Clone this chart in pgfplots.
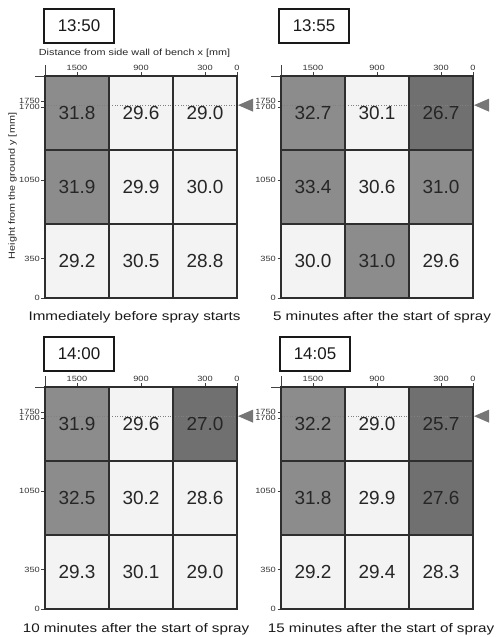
\documentclass[border=0pt]{standalone}
\usepackage{fontspec}
\setmainfont{Liberation Sans}
\newfontfamily\widefont[FakeStretch=1.22]{Liberation Sans}
\usepackage{pgfplots}
\usepackage{pgfplotstable}
\pgfplotsset{compat=1.18}
\definecolor{lightc}{HTML}{F3F3F3}
\definecolor{midc}{HTML}{8C8C8C}
\definecolor{darkc}{HTML}{707070}
\definecolor{gridc}{HTML}{2E2E2E}
\definecolor{txtc}{HTML}{262626}
\definecolor{tric}{HTML}{767676}

\pgfdeclareplotmark{lefttri}{%
  \pgfpathmoveto{\pgfpoint{1bp}{0bp}}%
  \pgfpathlineto{\pgfpoint{16bp}{6.5bp}}%
  \pgfpathlineto{\pgfpoint{16bp}{-6.5bp}}%
  \pgfpathclose\pgfusepathqfill}

% c: 0 = dark, 1 = light, 2 = medium
\pgfplotstableread{
x y c t
300 330 1 28.8
900 330 1 30.5
1500 330 1 29.2
300 990 1 30.0
900 990 1 29.9
1500 990 2 31.9
300 1650 1 29.0
900 1650 1 29.6
1500 1650 2 31.8
}\tabA
\pgfplotstableread{
x y c t
300 330 1 29.6
900 330 2 31.0
1500 330 1 30.0
300 990 2 31.0
900 990 1 30.6
1500 990 2 33.4
300 1650 0 26.7
900 1650 1 30.1
1500 1650 2 32.7
}\tabB
\pgfplotstableread{
x y c t
300 330 1 29.0
900 330 1 30.1
1500 330 1 29.3
300 990 1 28.6
900 990 1 30.2
1500 990 2 32.5
300 1650 0 27.0
900 1650 1 29.6
1500 1650 2 31.9
}\tabC
\pgfplotstableread{
x y c t
300 330 1 28.3
900 330 1 29.4
1500 330 1 29.2
300 990 0 27.6
900 990 1 29.9
1500 990 2 31.8
300 1650 0 25.7
900 1650 1 29.0
1500 1650 2 32.2
}\tabD

\pgfplotsset{
  cellax/.style={
    scale only axis, width=192bp, height=222bp,
    xmin=0, xmax=1800, ymin=0, ymax=1980, x dir=reverse,
    axis x line*=top, axis y line*=left,
    axis line style={-, line width=0.6pt, black!75},
    x axis line style={shorten >=-10bp},
    y axis line style={shorten >=-11bp},
    tick align=outside, major tick length=3.5bp,
    tick style={black!75, line width=0.6pt},
    xtick={0,300,900,1500}, ytick={0,350,1050,1700,1750},
    yticklabels={0,350,1050,\raisebox{-1.8bp}{1700},\raisebox{1.8bp}{1750}},
    ticklabel style={font=\widefont\fontsize{7.6}{7.6}\selectfont, text=black!80},
    xticklabel style={inner sep=1.5bp},
    yticklabel style={inner sep=1.5bp},
    /pgf/number format/1000 sep={},
    /pgf/number format/assume math mode=true,
    clip=false,
    colormap={cells}{color(0)=(darkc) color(1)=(lightc) color(2)=(midc)},
    point meta min=0, point meta max=2,
  },
  cellgrid/.style={gridc, line width=1.4pt, line cap=rect, mark=none},
}

\newcommand{\cells}[1]{%
  \addplot[matrix plot*, mesh/cols=3, point meta=explicit] table[x=x,y=y,meta=c]{#1};
  \addplot[black!50, dotted, line width=0.55pt, mark=none] coordinates {(0,1720) (1800,1720)};
  \addplot[cellgrid] coordinates {(0,0) (1800,0) (1800,1980) (0,1980) (0,0)};
  \addplot[cellgrid] coordinates {(600,0) (600,1980)};
  \addplot[cellgrid] coordinates {(1200,0) (1200,1980)};
  \addplot[cellgrid] coordinates {(0,660) (1800,660)};
  \addplot[cellgrid] coordinates {(0,1320) (1800,1320)};
  \addplot[draw=none, mark=none, point meta=explicit symbolic, nodes near coords,
    every node near coord/.append style={anchor=center, font=\fontsize{19}{19}\selectfont, text=txtc}]
    table[x=x,y=y,meta=t]{#1};
  \addplot[only marks, mark=lefttri, color=tric] coordinates {(0,1720)};
}

\begin{document}
\begin{tikzpicture}
\useasboundingbox (0,0) rectangle (496bp,637bp);

\begin{axis}[cellax, at={(45bp,339bp)}, anchor=south west]
\cells{\tabA}
\end{axis}
\begin{axis}[cellax, at={(281bp,339bp)}, anchor=south west]
\cells{\tabB}
\end{axis}
\begin{axis}[cellax, at={(45bp,28bp)}, anchor=south west]
\cells{\tabC}
\end{axis}
\begin{axis}[cellax, at={(281bp,28bp)}, anchor=south west]
\cells{\tabD}
\end{axis}

% axis titles
\node[font=\widefont\fontsize{8.9}{8.9}\selectfont, text=black!85] at (134.5bp,584bp) {Distance from side wall of bench x [mm]};
\node[font=\widefont\fontsize{8.9}{8.9}\selectfont, text=black!85, rotate=90] at (12.5bp,451bp) {Height from the ground y [mm]};

% time boxes
\tikzset{timebox/.style={draw=black!90, line width=1.2pt, minimum width=70bp, minimum height=34bp, inner sep=0pt, font=\fontsize{17}{17}\selectfont, text=black!90}}
\node[timebox] at (79bp,611bp) {13:50};
\node[timebox] at (314bp,611bp) {13:55};
\node[timebox] at (79bp,283bp) {14:00};
\node[timebox] at (315bp,283bp) {14:05};

% captions
\tikzset{capt/.style={font=\widefont\fontsize{12.5}{12.5}\selectfont, text=black!90, anchor=base, inner sep=0pt}}
\node[capt] at (134.5bp,316.3bp) {Immediately before spray starts};
\node[capt] at (382bp,316.3bp) {5 minutes after the start of spray};
\node[capt] at (136bp,4.3bp) {10 minutes after the start of spray};
\node[capt] at (381bp,4.3bp) {15 minutes after the start of spray};
\end{tikzpicture}
\end{document}
